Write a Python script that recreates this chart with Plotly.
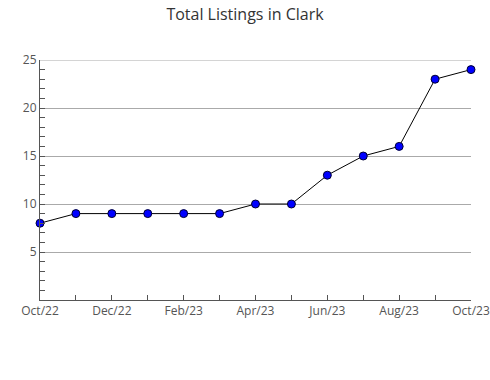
import plotly.graph_objects as go

months = ["Oct/22", "Nov/22", "Dec/22", "Jan/23", "Feb/23", "Mar/23", "Apr/23",
          "May/23", "Jun/23", "Jul/23", "Aug/23", "Sep/23", "Oct/23"]
listings = [8, 9, 9, 9, 9, 9, 10, 10, 13, 15, 16, 23, 24]
tick_text = [m if i % 2 == 0 else "" for i, m in enumerate(months)]
y_ticks = [5, 10, 15, 20, 25]

fig = go.Figure()
fig.add_trace(go.Scatter(
    x=months, y=listings, mode="lines+markers",
    line=dict(color="black", width=1),
    marker=dict(color="#0000ff", size=8, line=dict(color="#000033", width=1)),
    cliponaxis=False,
))
# top grid line (plotly omits gridlines lying on the range edge)
fig.add_shape(type="line", xref="paper", x0=0, x1=1, yref="y",
              y0=y_ticks[-1], y1=y_ticks[-1], line=dict(color="#aaaaaa", width=1),
              layer="below")
fig.update_layout(
    width=490, height=380,
    margin=dict(l=40, r=19, t=60, b=80, autoexpand=False),
    paper_bgcolor="white", plot_bgcolor="white",
    font=dict(family="Open Sans", size=12, color="#555555"),
    title=dict(text="Total Listings in Clark", x=0.5, xanchor="center",
               y=0.962, yanchor="middle", font=dict(size=16, color="#333333")),
    showlegend=False,
)
fig.update_xaxes(
    type="category", range=[0, 12], automargin=False,
    tickvals=months, ticktext=tick_text,
    ticks="inside", ticklen=5, tickcolor="#555555",
    showline=True, linecolor="#555555", linewidth=1,
    showgrid=False, zeroline=False,
)
fig.update_yaxes(
    range=[0, 25], tickvals=y_ticks, automargin=False,
    ticks="inside", ticklen=5, tickcolor="#555555",
    showline=True, linecolor="#555555", linewidth=1,
    showgrid=True, gridcolor="#aaaaaa", gridwidth=1,
    zeroline=False,
    minor=dict(dtick=1, ticks="inside", ticklen=5, tickcolor="#555555", showgrid=False),
)
fig.write_html("out.html")
